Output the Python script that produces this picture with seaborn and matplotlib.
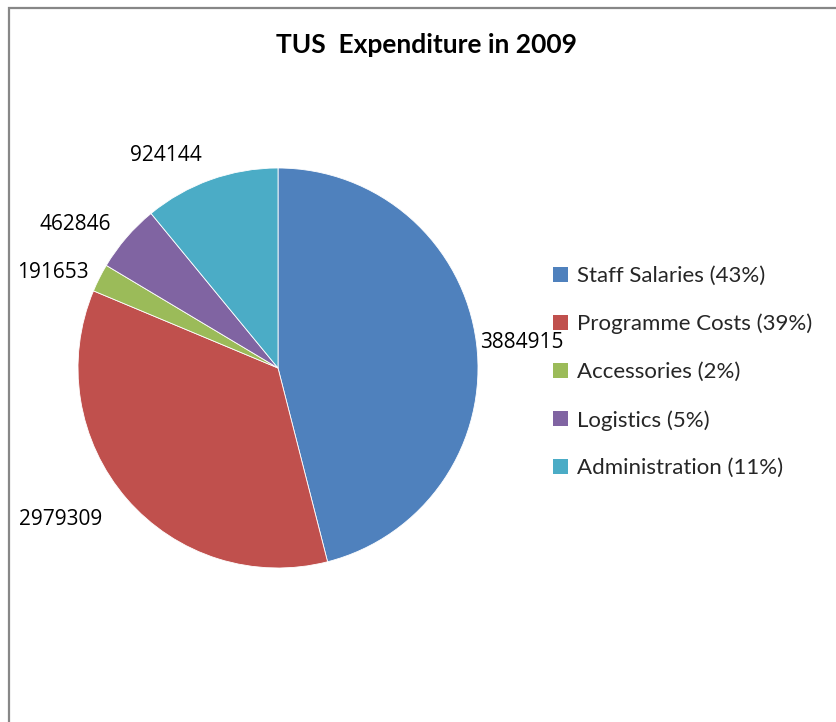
import numpy as np
import matplotlib
matplotlib.use("Agg")
import matplotlib.pyplot as plt
import matplotlib.patches as mpatches
import seaborn as sns

categories = ["Staff Salaries", "Programme Costs", "Accessories", "Logistics", "Administration"]
values = [3884915, 2979309, 191653, 462846, 924144]
legend_pct = ["43%", "39%", "2%", "5%", "11%"]
title = "TUS  Expenditure in 2009"

sns.set_theme(style="white")
plt.rcParams['font.family'] = ['Lato', 'DejaVu Sans']

colors = sns.color_palette(["#4F81BD", "#C0504D", "#9BBB59", "#8064A2", "#4BACC6"])

W, H = 837, 722
fig = plt.figure(figsize=(W / 100, H / 100), dpi=100)
fig.patch.set_facecolor("white")

# outer chart frame (cropped on right/bottom)
frame = mpatches.Rectangle((9 / W, -0.05), 1.2, (H - 8) / H + 0.05, transform=fig.transFigure,
                           fill=False, edgecolor="#878787", linewidth=1.6)
fig.add_artist(frame)

ax = fig.add_axes([78 / W, (H - 568) / H, 400 / W, 400 / H])
wedges, _ = ax.pie(values, colors=colors, startangle=90, counterclock=False,
                   wedgeprops=dict(edgecolor="white", linewidth=0.6))
ax.set_xlim(-1, 1)
ax.set_ylim(-1, 1)
ax.set_aspect("equal")
ax.axis("off")

# data labels at outside end
label_dist = [1.02, 1.16, 1.06, 1.10, 1.13]
for w, v, d in zip(wedges, values, label_dist):
    ang = np.deg2rad((w.theta1 + w.theta2) / 2)
    x, y = d * np.cos(ang), d * np.sin(ang)
    ax.text(x, y, str(v), ha="left" if x > 0 else "right", va="center",
            fontsize=15, family=["Open Sans", "DejaVu Sans"], color="black", clip_on=False)

fig.text(427 / W, 1 - 45 / H, title, ha="center", va="center",
         fontsize=19, fontweight="bold", color="black")

handles = [mpatches.Patch(facecolor=c, edgecolor="none") for c in colors]
labels = [f"{c} ({p})" for c, p in zip(categories, legend_pct)]
fig.legend(handles, labels, loc="upper left", bbox_to_anchor=(553 / W, 1 - 266 / H),
           frameon=False, fontsize=16, handlelength=0.66, handleheight=0.66,
           handletextpad=0.42, labelspacing=1.25, borderaxespad=0, borderpad=0)

fig.savefig("out.png", dpi=100)
